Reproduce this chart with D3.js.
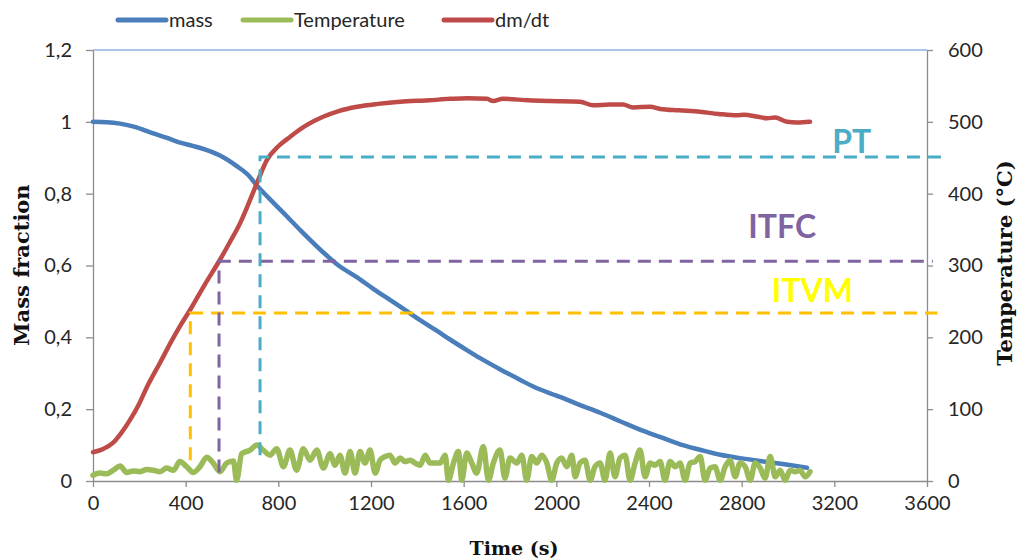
<!DOCTYPE html>
<html>
<head>
<meta charset="utf-8">
<script src="https://cdn.jsdelivr.net/npm/d3@7"></script>
<style>
  html, body { margin: 0; padding: 0; background: #fff; }
  svg { display: block; }
  .tick text { font-family: Lato, "Open Sans", sans-serif; font-size: 20px; fill: #262626; }
</style>
</head>
<body>
<svg id="chart" width="1025" height="560"></svg>
<script>
// ---------- data ----------
const xTicks = [0, 400, 800, 1200, 1600, 2000, 2400, 2800, 3200, 3600];
const leftTicks = [0, 0.2, 0.4, 0.6, 0.8, 1.0, 1.2];
const leftTickLabels = ["0", "0,2", "0,4", "0,6", "0,8", "1", "1,2"];
const rightTicks = [0, 100, 200, 300, 400, 500, 600];
const seriesNames = ["mass", "Temperature", "dm/dt"];

// mass fraction vs time (s)
const massSeries = [
  [0,1.0],[60,0.999],[117,0.995],[180,0.986],[250,0.97],[320,0.955],[376,0.942],[430,0.933],
  [492,0.921],[560,0.902],[622,0.876],[670,0.852],[708,0.822],[760,0.787],[820,0.748],[900,0.695],
  [993,0.637],[1060,0.6],[1140,0.567],[1210,0.535],[1282,0.504],[1350,0.475],[1412,0.448],[1480,0.42],
  [1541,0.394],[1610,0.366],[1671,0.342],[1760,0.31],[1843,0.282],[1900,0.263],[2016,0.234],[2100,0.212],
  [2189,0.19],[2280,0.165],[2361,0.143],[2450,0.122],[2534,0.102],[2620,0.087],[2707,0.073],[2800,0.063],
  [2910,0.053],[3000,0.045],[3082,0.037]
];

// "Temperature" series (noisy, right-axis units)
const tempSeries = [
  [0,8],[30,11],[59,10],[88,15],[117,21],[145,12],[174,14],[203,13],[232,16],[260,15],[289,13],[318,18],
  [347,15],[375,27],[404,20],[433,12],[462,20],[491,33],[519,25],[548,13],[577,25],[606,28],[620,1],[642,38],
  [678,43],[707,50],[735,43],[764,36],[793,45],[822,20],[850,43],[879,15],[908,45],[937,29],[966,43],[994,18],
  [1023,38],[1045,22],[1066,36],[1088,11],[1110,41],[1131,11],[1153,41],[1174,25],[1196,43],[1218,11],[1239,29],
  [1261,34],[1282,36],[1304,25],[1326,32],[1347,27],[1369,29],[1390,25],[1412,22],[1434,36],[1455,25],[1477,25],
  [1498,25],[1520,36],[1534,1],[1556,25],[1577,41],[1592,1],[1613,39],[1635,25],[1656,11],[1685,48],[1707,1],
  [1728,25],[1757,43],[1778,4],[1800,32],[1829,25],[1851,36],[1872,1],[1894,34],[1915,25],[1937,36],[1959,25],
  [1980,1],[2002,25],[2023,32],[2045,20],[2067,36],[2081,6],[2102,25],[2124,29],[2146,1],[2167,20],[2189,25],
  [2210,1],[2232,39],[2253,6],[2275,32],[2297,36],[2318,1],[2340,25],[2361,43],[2383,6],[2405,25],[2426,22],
  [2448,27],[2469,1],[2491,27],[2513,20],[2534,25],[2556,1],[2577,25],[2599,27],[2621,34],[2642,1],[2664,18],
  [2685,20],[2707,1],[2729,20],[2750,29],[2772,6],[2793,25],[2815,20],[2837,1],[2858,25],[2880,18],[2901,4],
  [2923,34],[2945,6],[2966,15],[2988,1],[3009,15],[3031,13],[3052,15],[3074,6],[3095,13]
];

// "dm/dt" series (right-axis units)
const dmdtSeries = [
  [0,40],[40,44],[86,53],[120,66],[160,85],[200,108],[233,131],[290,165],[341,196],[380,218],[419,238],
  [480,272],[548,308],[590,332],[635,359],[670,385],[708,415],[751,447],[800,466],[850,479],[920,495],
  [993,507],[1060,515],[1140,521],[1230,525],[1325,528],[1450,530],[1540,532],[1615,533],[1701,532],
  [1727,529],[1770,532],[1880,530],[1973,529],[2102,528],[2159,523],[2230,524],[2288,524],[2331,520],
  [2405,521],[2448,518],[2530,516],[2620,514],[2700,511],[2780,509],[2810,510],[2870,507],[2910,505],
  [2944,506],[2996,500],[3040,499],[3095,500]
];

// annotation markers
const annotNames = ["ITVM", "ITFC", "PT"];
const annotTime = [420, 544, 721];
const annotTemp = [234, 306, 451];
const annotBase = [29, 12, 36];
const annotEnd = [3645, 3625, 3680];
const annotLabelTime = [3105, 2975, 3275];
const annotLabelTemp = [249, 338, 457];

// ---------- styles ----------
const colors = { mass: "#4A7EBB", temp: "#9BBB59", dmdt: "#BE4B48" };
const annotColors = ["#FFC000", "#8064A2", "#4BACC6"];
const annotTextColors = ["#FFFF00", "#8064A2", "#4BACC6"];

// ---------- layout ----------
const svg = d3.select("#chart");
const x = d3.scaleLinear().domain([0, 3600]).range([93, 927]);
const yL = d3.scaleLinear().domain([0, 1.2]).range([481, 50]);
const yR = d3.scaleLinear().domain([0, 600]).range([481, 50]);

// top border line of plot area
svg.append("line")
  .attr("x1", x(0)).attr("x2", x(3600))
  .attr("y1", yL(1.2)).attr("y2", yL(1.2))
  .attr("stroke", "#5B8BD0").attr("stroke-width", 1);

const axisColor = "#8C8C8C";
function styleAxis(g) {
  g.select(".domain").attr("stroke", axisColor).attr("stroke-width", 1.3);
  g.selectAll(".tick line").attr("stroke", axisColor).attr("stroke-width", 1.3);
}

const gx = svg.append("g").attr("transform", `translate(0,${yL(0)})`)
  .call(d3.axisBottom(x).tickValues(xTicks).tickSize(6).tickSizeOuter(0).tickPadding(9).tickFormat(d3.format("d")));
styleAxis(gx);

const gl = svg.append("g").attr("transform", `translate(${x(0)},0)`)
  .call(d3.axisLeft(yL).tickValues(leftTicks).tickSize(7).tickSizeOuter(0).tickPadding(14)
    .tickFormat((d, i) => leftTickLabels[i]));
styleAxis(gl);

const gr = svg.append("g").attr("transform", `translate(${x(3600)},0)`)
  .call(d3.axisRight(yR).tickValues(rightTicks).tickSize(6).tickSizeOuter(0).tickPadding(15).tickFormat(d3.format("d")));
styleAxis(gr);

// axis titles
svg.append("text")
  .attr("x", 514).attr("y", 555).attr("text-anchor", "middle")
  .style("font-family", "'DejaVu Serif', serif").style("font-weight", "bold").style("font-size", "19px")
  .attr("fill", "#111").text("Time (s)");
svg.append("text")
  .attr("transform", "translate(29,265) rotate(-90)").attr("text-anchor", "middle")
  .style("font-family", "'DejaVu Serif', serif").style("font-weight", "bold").style("font-size", "21px")
  .attr("fill", "#111").text("Mass fraction");
svg.append("text")
  .attr("transform", "translate(1012,263) rotate(-90)").attr("text-anchor", "middle")
  .style("font-family", "'DejaVu Serif', serif").style("font-weight", "bold").style("font-size", "21px")
  .attr("fill", "#111").text("Temperature (°C)");

// series
const lineL = d3.line().x(d => x(d[0])).y(d => yL(d[1])).curve(d3.curveMonotoneX);
const lineR = d3.line().x(d => x(d[0])).y(d => yR(d[1])).curve(d3.curveMonotoneX);

svg.append("path").datum(massSeries).attr("d", lineL)
  .attr("fill", "none").attr("stroke", colors.mass).attr("stroke-width", 4.5).attr("stroke-linejoin", "round").attr("stroke-linecap", "round");
svg.append("path").datum(tempSeries).attr("d", lineR)
  .attr("fill", "none").attr("stroke", colors.temp).attr("stroke-width", 5.5).attr("stroke-linejoin", "round").attr("stroke-linecap", "round");
svg.append("path").datum(dmdtSeries).attr("d", lineR)
  .attr("fill", "none").attr("stroke", colors.dmdt).attr("stroke-width", 4.5).attr("stroke-linejoin", "round").attr("stroke-linecap", "round");

// annotation dashed lines + labels
annotNames.forEach((name, i) => {
  const path = d3.path();
  path.moveTo(x(annotTime[i]), yR(annotBase[i]));
  path.lineTo(x(annotTime[i]), yR(annotTemp[i]));
  path.lineTo(x(annotEnd[i]), yR(annotTemp[i]));
  svg.append("path").attr("d", path.toString())
    .attr("fill", "none").attr("stroke", annotColors[i]).attr("stroke-width", 3)
    .attr("stroke-dasharray", "13,8");
  svg.append("text")
    .attr("x", x(annotLabelTime[i])).attr("y", yR(annotLabelTemp[i]))
    .attr("text-anchor", "middle")
    .style("font-family", "Lato, 'Open Sans', sans-serif").style("font-weight", "bold").style("font-size", "32px")
    .attr("fill", annotTextColors[i]).text(name);
});

// legend
const legendX = [118, 243, 444];
const legendColors = [colors.mass, colors.temp, colors.dmdt];
const legend = svg.append("g");
seriesNames.forEach((n, i) => {
  legend.append("line")
    .attr("x1", legendX[i]).attr("x2", legendX[i] + 48)
    .attr("y1", 20).attr("y2", 20)
    .attr("stroke", legendColors[i]).attr("stroke-width", 5).attr("stroke-linecap", "round");
  legend.append("text")
    .attr("x", legendX[i] + 51).attr("y", 20).attr("dy", "0.35em")
    .style("font-family", "Lato, 'Open Sans', sans-serif").style("font-size", "20px")
    .attr("fill", "#262626").text(n);
});
</script>
</body>
</html>
